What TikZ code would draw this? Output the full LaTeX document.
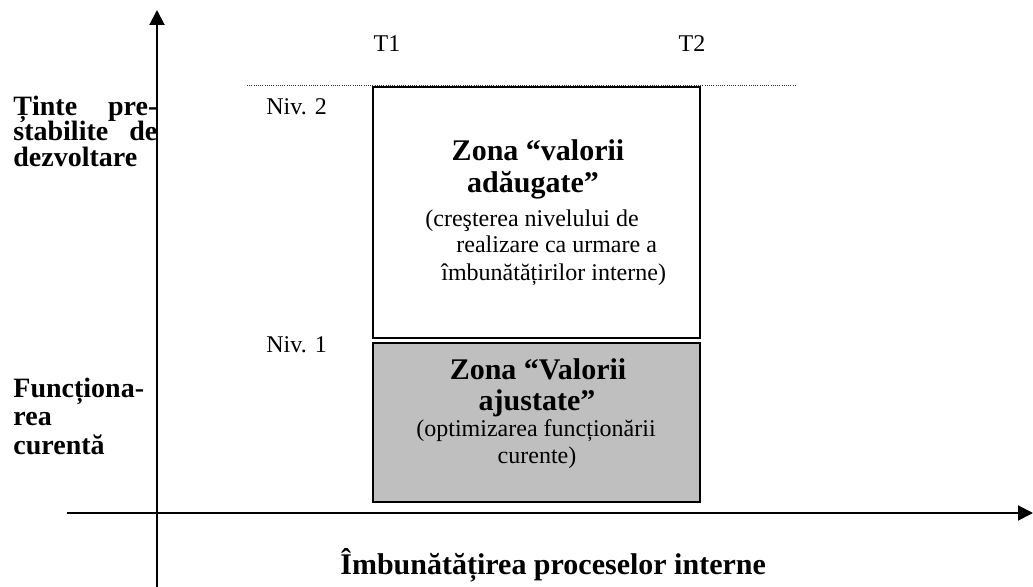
\documentclass[tikz,border=0pt]{standalone}
\usepackage{fontspec}
\setmainfont{Liberation Serif}
\usetikzlibrary{arrows.meta}
\begin{document}
\begin{tikzpicture}[x=0.5pt,y=-0.5pt,
  axis/.style={line width=1pt,-{Triangle[width=7.5pt,length=7.5pt]}},
  zone/.style={draw=black,line width=1pt,minimum width=163.5pt,inner sep=0pt},
  bl/.style={font=\fontsize{15}{17}\selectfont\bfseries,inner sep=0pt,anchor=base},
  rg/.style={font=\fontsize{12}{14}\selectfont,inner sep=0pt,anchor=base},
  lbl/.style={font=\fontsize{14}{16}\selectfont\bfseries,inner sep=0pt,anchor=base west},
  guide/.style={line width=0.5pt,black!80,dash pattern=on 0.5pt off 0.6pt},
]
\useasboundingbox (0,0) rectangle (1033,587);
% axes
\coordinate (yb) at (157,587);
\coordinate (yt) at (157,10);
\coordinate (xl) at (67,513);
\coordinate (xr) at (1033,513);
\draw[axis] (yb) -- (yt);
\draw[axis] (xl) -- (xr);
% dotted level line
\coordinate (dl) at (247,86);
\coordinate (dr) at (795,86);
\draw[guide] (dl) -- (dr);
% zones
\node[zone,fill=white,minimum height=125.5pt] (up) at (536.5,212.5) {};
\node[zone,fill=black!25,minimum height=79.5pt] (low) at (536.5,422.5) {};
% upper zone text
\node[bl] (z1a) at (538,161) {Zona “valorii};
\node[bl] (z1b) at (533,193) {adăugate”};
\node[rg,anchor=base west] (z1c) at (425,227) {(creşterea nivelului de};
\node[rg,anchor=base west] (z1d) at (456,253) {realizare ca urmare a};
\node[rg,anchor=base west] (z1e) at (441,281) {îmbunătățirilor interne)};
% lower zone text
\node[bl] (z2a) at (538,380) {Zona “Valorii};
\node[bl] (z2b) at (537,411) {ajustate”};
\node[rg] (z2c) at (536,437) {(optimizarea funcționării};
\node[rg] (z2d) at (537,463) {curente)};
% time and level labels
\node[rg] (t1) at (387,52) {T1};
\node[rg] (t2) at (692,52) {T2};
\node[rg,anchor=base west] (n2) at (266,115) {Niv. 2};
\node[rg,anchor=base west] (n1) at (266,353) {Niv. 1};
% left labels
\node[lbl] (l1) at (13,116) {\hbox to 72pt{Ținte\hfill pre-}};
\node[lbl] (l2) at (13,141) {\hbox to 72pt{stabilite\hfill de}};
\node[lbl] (l3) at (13,167) {dezvoltare};
\node[lbl] (l4) at (13,398) {Funcționa-};
\node[lbl] (l5) at (13,426) {rea};
\node[lbl] (l6) at (13,454) {curentă};
% bottom label
\node[font=\fontsize{15}{17}\selectfont\bfseries,inner sep=0pt,anchor=base west] (xlab) at (340,574) {Îmbunătățirea proceselor interne};
\end{tikzpicture}
\end{document}
